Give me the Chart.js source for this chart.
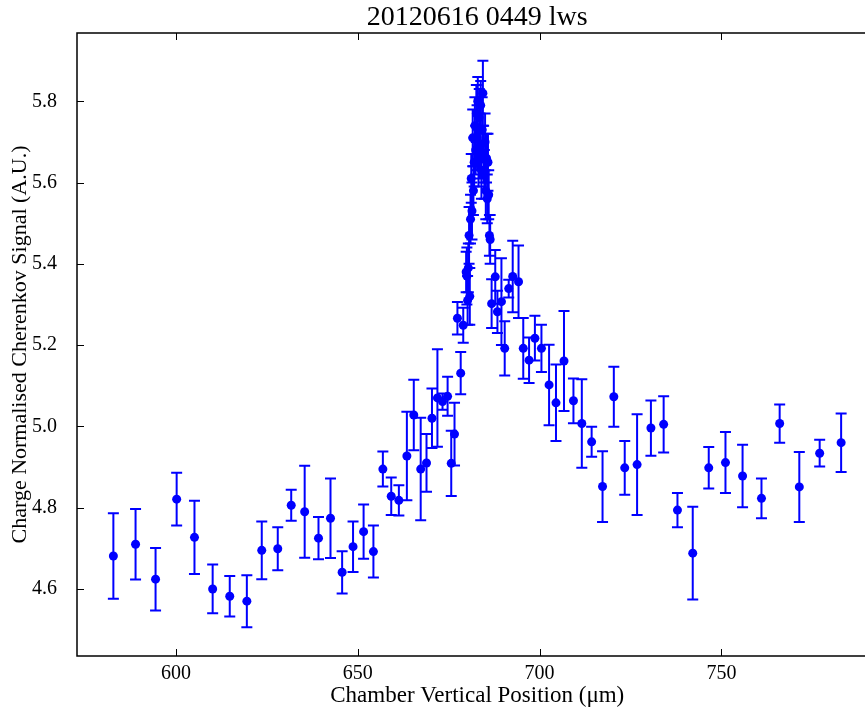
<!DOCTYPE html>
<html>
<head>
<meta charset="utf-8">
<title>20120616 0449 lws</title>
<script src="https://cdn.jsdelivr.net/npm/chart.js@4"></script>
<style>
  html, body { margin: 0; padding: 0; background: #fff; overflow: hidden; }
  #wrap { width: 882px; height: 707px; }
</style>
</head>
<body>
<div id="wrap"><canvas id="scan"></canvas></div>
<script>
// chamber position (um), signal and its error, one entry per scan point
const xPos = [
  582.8, 588.9, 594.4, 600.2, 605.1, 610.1, 614.8, 619.5, 623.6, 628.0,
  631.7, 635.4, 639.2, 642.5, 645.7, 648.7, 651.6, 654.3, 656.9, 659.2,
  661.3, 663.5, 665.4, 667.3, 668.9, 670.4, 671.9, 673.3, 674.7, 675.7,
  676.6, 677.4, 678.3, 679.0,
  679.8, 680.0, 680.2, 680.4, 680.6, 680.8, 681.0, 681.2, 681.4, 681.6,
  681.8, 682.0, 682.2, 682.4, 682.6, 682.8, 683.0, 683.2, 683.4, 683.6,
  683.8, 684.0, 684.2, 684.4, 684.6, 684.8, 685.0, 685.2, 685.4, 685.6,
  685.8, 686.0, 686.2, 686.4,
  686.8, 687.8, 688.4, 689.5, 690.4, 691.5, 692.6, 694.2, 695.5, 697.1,
  698.7, 700.5, 702.6, 704.5, 706.7, 709.3, 711.6, 714.3, 717.3, 720.4,
  723.4, 726.8, 730.6, 734.1, 737.9, 742.1, 746.5, 751.1, 755.8, 761.0,
  766.0, 771.4, 777.0, 782.9
];
const signal = [
  4.681, 4.710, 4.624, 4.821, 4.727, 4.600, 4.582, 4.570, 4.695, 4.699,
  4.806, 4.790, 4.725, 4.774, 4.641, 4.704, 4.741, 4.692, 4.895, 4.828,
  4.818, 4.927, 5.028, 4.895, 4.910, 5.020, 5.070, 5.061, 5.074, 4.909,
  4.981, 5.266, 5.131, 5.249,
  5.38, 5.37, 5.31, 5.39, 5.47, 5.32, 5.51, 5.61, 5.53, 5.71,
  5.58, 5.65, 5.74, 5.68, 5.77, 5.71, 5.80, 5.66, 5.76, 5.69,
  5.79, 5.63, 5.73, 5.82, 5.67, 5.62, 5.70, 5.58, 5.66, 5.56,
  5.65, 5.57, 5.47, 5.46,
  5.302, 5.368, 5.282, 5.307, 5.192, 5.339, 5.369, 5.356, 5.192, 5.163,
  5.217, 5.192, 5.102, 5.058, 5.161, 5.063, 5.007, 4.962, 4.852, 5.073,
  4.898, 4.906, 4.996, 5.005, 4.794, 4.688, 4.898, 4.911, 4.878, 4.823,
  5.007, 4.851, 4.934, 4.960
];
const signalErr = [
  0.105, 0.087, 0.077, 0.065, 0.090, 0.060, 0.050, 0.064, 0.071, 0.053,
  0.038, 0.113, 0.052, 0.098, 0.052, 0.062, 0.067, 0.064, 0.043, 0.046,
  0.037, 0.109, 0.087, 0.126, 0.071, 0.073, 0.120, 0.020, 0.048, 0.080,
  0.077, 0.040, 0.052, 0.043,
  0.05, 0.07, 0.06, 0.06, 0.07, 0.07, 0.06, 0.06, 0.07, 0.07,
  0.06, 0.06, 0.07, 0.06, 0.07, 0.08, 0.06, 0.07, 0.07, 0.08,
  0.06, 0.07, 0.08, 0.08, 0.07, 0.06, 0.07, 0.07, 0.06, 0.06,
  0.07, 0.06, 0.05, 0.06,
  0.060, 0.066, 0.052, 0.107, 0.067, 0.022, 0.088, 0.089, 0.075, 0.056,
  0.055, 0.058, 0.099, 0.094, 0.123, 0.055, 0.109, 0.037, 0.087, 0.074,
  0.066, 0.124, 0.068, 0.069, 0.042, 0.114, 0.051, 0.075, 0.077, 0.049,
  0.047, 0.086, 0.033, 0.072
];
const xTicks = [600, 650, 700, 750];
const yTicks = [4.6, 4.8, 5.0, 5.2, 5.4, 5.6, 5.8];

const blue = '#0000ff';
const serif = 'Liberation Serif';

// vertical error bars with caps, drawn under the markers
const errorBars = {
  id: 'errorBars',
  beforeDatasetsDraw(chart) {
    const { ctx, scales: { x, y } } = chart;
    ctx.save();
    ctx.strokeStyle = blue;
    ctx.lineWidth = 2;
    xPos.forEach((v, i) => {
      const px = x.getPixelForValue(v);
      const top = y.getPixelForValue(signal[i] + signalErr[i]);
      const bot = y.getPixelForValue(signal[i] - signalErr[i]);
      ctx.beginPath();
      ctx.moveTo(px, top); ctx.lineTo(px, bot);
      ctx.moveTo(px - 5.5, top); ctx.lineTo(px + 5.5, top);
      ctx.moveTo(px - 5.5, bot); ctx.lineTo(px + 5.5, bot);
      ctx.stroke();
    });
    ctx.restore();
  }
};

// axes box with inward tick marks on every side
const frame = {
  id: 'frame',
  afterDraw(chart) {
    const { ctx, chartArea: a, scales: { x, y } } = chart;
    ctx.save();
    ctx.strokeStyle = '#000';
    ctx.lineWidth = 1.5;
    ctx.strokeRect(a.left, a.top, a.right - a.left, a.bottom - a.top);
    ctx.lineWidth = 1;
    ctx.beginPath();
    x.ticks.forEach(t => {
      const px = Math.round(x.getPixelForValue(t.value)) + 0.5;
      ctx.moveTo(px, a.bottom); ctx.lineTo(px, a.bottom - 7);
      ctx.moveTo(px, a.top); ctx.lineTo(px, a.top + 7);
    });
    y.ticks.forEach(t => {
      const py = Math.round(y.getPixelForValue(t.value)) + 0.5;
      ctx.moveTo(a.left, py); ctx.lineTo(a.left + 7, py);
      ctx.moveTo(a.right, py); ctx.lineTo(a.right - 7, py);
    });
    ctx.stroke();
    ctx.restore();
  }
};

new Chart(document.getElementById('scan'), {
  type: 'scatter',
  data: {
    datasets: [{
      data: xPos.map((v, i) => ({ x: v, y: signal[i] })),
      backgroundColor: blue,
      borderColor: blue,
      pointRadius: 4.5,
      pointHoverRadius: 4.5,
      borderWidth: 0
    }]
  },
  options: {
    responsive: true,
    maintainAspectRatio: false,
    animation: false,
    events: [],
    layout: { padding: 0 },
    plugins: {
      legend: { display: false },
      tooltip: { enabled: false },
      title: {
        display: true,
        text: '20120616 0449 lws',
        fullSize: false,
        color: '#000',
        font: { family: serif, size: 28, weight: 'normal', lineHeight: 1.0 },
        padding: { top: 4, bottom: 1 }
      }
    },
    scales: {
      x: {
        type: 'linear',
        min: 572.8,
        max: 792.9,
        afterBuildTicks: s => { s.ticks = xTicks.map(v => ({ value: v })); },
        afterFit: s => { s.height = 51; },
        grid: { display: false, drawTicks: false },
        border: { display: false },
        ticks: {
          color: '#000',
          padding: 6,
          maxRotation: 0,
          font: { family: serif, size: 20 }
        },
        title: {
          display: true,
          text: 'Chamber Vertical Position (μm)',
          color: '#000',
          font: { family: serif, size: 23, lineHeight: 1.0 },
          padding: { top: 0, bottom: 0 }
        }
      },
      y: {
        type: 'linear',
        min: 4.435,
        max: 5.968,
        afterBuildTicks: s => { s.ticks = yTicks.map(v => ({ value: v })); },
        afterFit: s => { s.width = 77; },
        grid: { display: false, drawTicks: false },
        border: { display: false },
        ticks: {
          color: '#000',
          padding: 20,
          font: { family: serif, size: 20 },
          callback: v => v.toFixed(1)
        },
        title: {
          display: true,
          text: 'Charge Normalised Cherenkov Signal (A.U.)',
          color: '#000',
          font: { family: serif, size: 22, lineHeight: 1.0 },
          padding: { top: 9, bottom: 0 }
        }
      }
    }
  },
  plugins: [errorBars, frame]
});
</script>
</body>
</html>
